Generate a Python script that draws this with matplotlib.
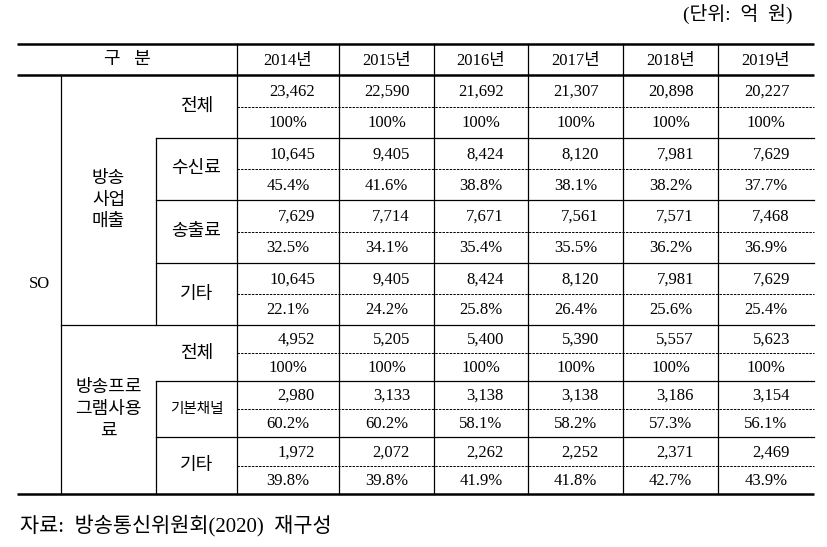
import matplotlib
matplotlib.use("Agg")
import matplotlib.pyplot as plt

plt.rcParams['font.family'] = ['Liberation Serif', 'Noto Sans CJK KR']

years = ["2014년", "2015년", "2016년", "2017년", "2018년", "2019년"]

# 방송사업매출
total_rev = ["23,462", "22,590", "21,692", "21,307", "20,898", "20,227"]
total_rev_pct = ["100%"] * 6
subscr = ["10,645", "9,405", "8,424", "8,120", "7,981", "7,629"]
subscr_pct = ["45.4%", "41.6%", "38.8%", "38.1%", "38.2%", "37.7%"]
carriage = ["7,629", "7,714", "7,671", "7,561", "7,571", "7,468"]
carriage_pct = ["32.5%", "34.1%", "35.4%", "35.5%", "36.2%", "36.9%"]
etc_rev = ["10,645", "9,405", "8,424", "8,120", "7,981", "7,629"]
etc_rev_pct = ["22.1%", "24.2%", "25.8%", "26.4%", "25.6%", "25.4%"]

# 방송프로그램사용료
total_prog = ["4,952", "5,205", "5,400", "5,390", "5,557", "5,623"]
total_prog_pct = ["100%"] * 6
basic_ch = ["2,980", "3,133", "3,138", "3,138", "3,186", "3,154"]
basic_ch_pct = ["60.2%", "60.2%", "58.1%", "58.2%", "57.3%", "56.1%"]
etc_prog = ["1,972", "2,072", "2,262", "2,252", "2,371", "2,469"]
etc_prog_pct = ["39.8%", "39.8%", "41.9%", "41.8%", "42.7%", "43.9%"]

rows = [
    ("전체", total_rev, total_rev_pct),
    ("수신료", subscr, subscr_pct),
    ("송출료", carriage, carriage_pct),
    ("기타", etc_rev, etc_rev_pct),
    ("전체", total_prog, total_prog_pct),
    ("기본채널", basic_ch, basic_ch_pct),
    ("기타", etc_prog, etc_prog_pct),
]

# layout (pixels)
W, H = 828, 547
x_left, x_c1, x_c2, x_c3 = 17, 61, 156, 237
col_edges = [237, 339, 434, 528, 623, 718, 814]
y_top, y_head = 44, 75
row_edges = [75, 138, 200, 263, 325, 381, 437, 494]

fig = plt.figure(figsize=(W / 100, H / 100), dpi=100)
ax = fig.add_axes([0, 0, 1, 1])
ax.set_xlim(0, W)
ax.set_ylim(H, 0)
ax.axis("off")

lc = "black"
# thick lines
for y in (y_top, y_head, row_edges[-1]):
    ax.plot([x_left, col_edges[-1]], [y, y], color=lc, lw=1.8, solid_capstyle="butt")
# vertical lines
ax.plot([x_c1, x_c1], [y_head, row_edges[-1]], color=lc, lw=0.9)
ax.plot([x_c2, x_c2], [row_edges[1], row_edges[4]], color=lc, lw=0.9)
ax.plot([x_c2, x_c2], [row_edges[5], row_edges[7]], color=lc, lw=0.9)
for x in col_edges[:-1]:
    ax.plot([x, x], [y_top, row_edges[-1]], color=lc, lw=0.9)
# horizontal row separators
for i, y in enumerate(row_edges[1:-1], start=1):
    x0 = x_c1 if i == 4 else x_c2
    ax.plot([x0, col_edges[-1]], [y, y], color=lc, lw=0.9)
# dashed mid lines
for i in range(len(rows)):
    ym = (row_edges[i] + row_edges[i + 1]) / 2
    ax.plot([x_c3, col_edges[-1]], [ym, ym], color=lc, lw=0.7, ls=(0, (2.5, 1.2)))

fs = 12
kfs = 13
# header
ax.text((x_left + x_c3) / 2, (y_top + y_head) / 2, "구   분", ha="center", va="center", fontsize=kfs)
for j, yr in enumerate(years):
    ax.text((col_edges[j] + col_edges[j + 1]) / 2, (y_top + y_head) / 2 + 1, yr,
            ha="center", va="center", fontsize=fs)

ax.text((x_left + x_c1) / 2, (y_head + row_edges[-1]) / 2, "SO", ha="center", va="center", fontsize=fs)
ax.text((x_c1 + x_c2) / 2, (row_edges[0] + row_edges[4]) / 2, "방송\n사업\n매출",
        ha="center", va="center", fontsize=kfs, linespacing=1.35)
ax.text((x_c1 + x_c2) / 2, (row_edges[4] + row_edges[7]) / 2, "방송프로\n그램사용\n료",
        ha="center", va="center", fontsize=kfs, linespacing=1.35)

for i, (name, vals, pcts) in enumerate(rows):
    y0, y1 = row_edges[i], row_edges[i + 1]
    ym = (y0 + y1) / 2
    ax.text((x_c2 + x_c3) / 2, ym, name, ha="center", va="center",
            fontsize=10.5 if len(name) == 4 else kfs)
    for j in range(6):
        xa, xb = col_edges[j], col_edges[j + 1]
        ax.text(xb - 24, (y0 + ym) / 2 + 1, vals[j], ha="right", va="center", fontsize=fs)
        ax.text((xa + xb) / 2, (ym + y1) / 2 + 1, pcts[j], ha="center", va="center", fontsize=fs)

ax.text(793, 14, "(단위:  억  원)", ha="right", va="center", fontsize=14)
ax.text(20, 525, "자료:  방송통신위원회(2020)  재구성", ha="left", va="center", fontsize=15)

fig.savefig("out.png", dpi=100)
